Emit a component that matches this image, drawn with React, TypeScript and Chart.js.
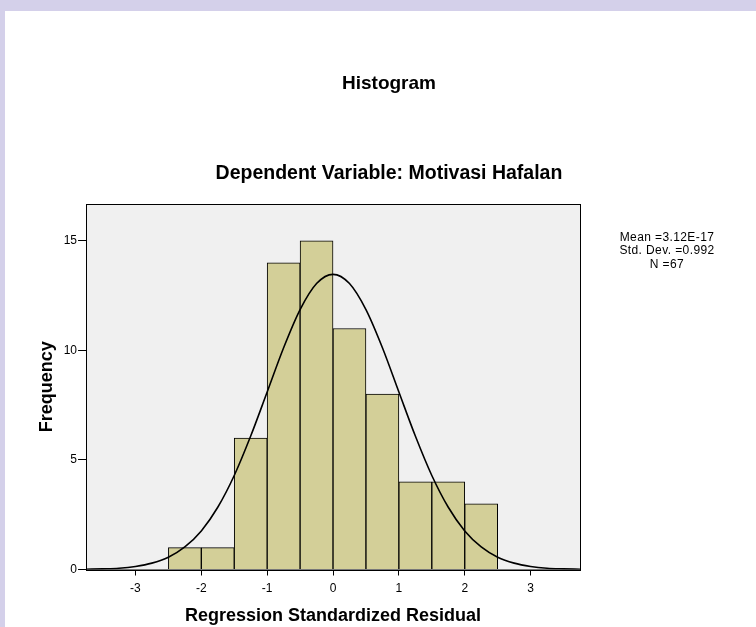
import React, { useEffect, useRef } from "react";
import { Chart, registerables } from "chart.js";

Chart.register(...registerables);

// Histogram bins (centers of 0.5-wide bins) and frequencies
const binCenters = [-2.25, -1.75, -1.25, -0.75, -0.25, 0.25, 0.75, 1.25, 1.75, 2.25];
const frequencies = [1, 1, 6, 14, 15, 11, 8, 4, 4, 3];

// Normal curve
const curveX = [
  -3.75, -3.5, -3.25, -3, -2.75, -2.5, -2.25, -2, -1.75, -1.5, -1.25, -1, -0.75, -0.5, -0.25,
  0, 0.25, 0.5, 0.75, 1, 1.25, 1.5, 1.75, 2, 2.25, 2.5, 2.75, 3, 3.25, 3.5, 3.75,
];
const curveY = [
  0.01, 0.03, 0.06, 0.14, 0.29, 0.56, 1.03, 1.76, 2.84, 4.29, 6.09, 8.1, 10.12, 11.86, 13.05,
  13.47, 13.05, 11.86, 10.12, 8.1, 6.09, 4.29, 2.84, 1.76, 1.03, 0.56, 0.29, 0.14, 0.06, 0.03, 0.01,
];

const xTicks = [-3, -2, -1, 0, 1, 2, 3];
const yTicks = [0, 5, 10, 15];

const titleText = "Histogram";
const subtitleText = "Dependent Variable: Motivasi Hafalan";
const xTitle = "Regression Standardized Residual";
const yTitle = "Frequency";
const statsLines = ["Mean =3.12E-17", "Std. Dev. =0.992", "N =67"];

const FONT = "'Liberation Sans', Arial, sans-serif";

const plotFrame = {
  id: "plotFrame",
  beforeDatasetsDraw(chart: any) {
    const { ctx, chartArea: a } = chart;
    ctx.save();
    ctx.fillStyle = "#f0f0f0";
    ctx.fillRect(a.left, a.top, a.right - a.left, a.bottom - a.top);
    ctx.restore();
  },
  afterDraw(chart: any) {
    const { ctx, chartArea: a } = chart;
    ctx.save();
    ctx.strokeStyle = "#000";
    ctx.lineWidth = 1;
    ctx.strokeRect(Math.round(a.left) + 0.5, Math.round(a.top) + 0.5, Math.round(a.right - a.left), Math.round(a.bottom - a.top));
    ctx.restore();
  },
};

export default function App() {
  const ref = useRef<HTMLCanvasElement | null>(null);

  useEffect(() => {
    if (!ref.current) return;
    const chart = new Chart(ref.current, {
      type: "bar",
      data: {
        datasets: [
          {
            type: "bar",
            data: binCenters.map((x, i) => ({ x, y: frequencies[i] })),
            backgroundColor: "#d3cf98",
            borderColor: "#000",
            borderWidth: 1,
            barPercentage: 1,
            categoryPercentage: 1,
            grouped: false,
            order: 2,
          } as any,
          {
            type: "line",
            data: curveX.map((x, i) => ({ x, y: curveY[i] })),
            borderColor: "#000",
            borderWidth: 1.6,
            pointRadius: 0,
            fill: false,
            cubicInterpolationMode: "monotone",
            order: 1,
          } as any,
        ],
      },
      options: {
        animation: false,
        responsive: false,
        maintainAspectRatio: false,
        layout: { padding: { top: 204, right: 176, bottom: 0, left: 0 } },
        plugins: {
          legend: { display: false },
          tooltip: { enabled: false },
          title: { display: false },
        },
        scales: {
          x: {
            type: "linear",
            min: -3.75,
            max: 3.75,
            offset: false,
            afterBuildTicks: (s: any) => {
              s.ticks = xTicks.map((v) => ({ value: v }));
            },
            grid: { offset: false, drawOnChartArea: false, drawTicks: true, tickLength: 6, color: "#000", tickWidth: 1 },
            border: { display: true, color: "#000", width: 1 },
            ticks: { color: "#000", font: { family: FONT, size: 12 }, padding: 6, maxRotation: 0 },
            title: {
              display: true,
              text: xTitle,
              color: "#000",
              font: { family: FONT, size: 18, weight: "bold" },
              padding: { top: 3.5, bottom: 0 },
            },
          },
          y: {
            type: "linear",
            min: 0,
            max: 16.68,
            afterBuildTicks: (s: any) => {
              s.ticks = yTicks.map((v) => ({ value: v }));
            },
            grid: { drawOnChartArea: false, drawTicks: true, tickLength: 8, color: "#000", tickWidth: 1 },
            border: { display: true, color: "#000", width: 1 },
            ticks: { color: "#000", font: { family: FONT, size: 12 }, padding: 1 },
            title: {
              display: true,
              text: yTitle,
              color: "#000",
              font: { family: FONT, size: 18, weight: "bold" },
              padding: { top: 35.9, bottom: 5.2 },
            },
          },
        },
      },
      plugins: [plotFrame],
    });
    return () => chart.destroy();
  }, []);

  return (
    <div style={{ position: "fixed", left: 0, top: 0, width: 756, height: 627, background: "#d4d0ea", overflow: "hidden" }}>
      <div style={{ position: "absolute", left: 5, top: 11, right: 0, bottom: 0, background: "#fff" }} />
      <canvas ref={ref} width={756} height={627} style={{ position: "absolute", left: 0, top: 0, width: 756, height: 627 }} />
      <div
        style={{
          position: "absolute",
          left: 189,
          width: 400,
          top: 71.5,
          textAlign: "center",
          fontFamily: FONT,
          fontWeight: "bold",
          fontSize: 19,
          color: "#000",
          whiteSpace: "nowrap",
        }}
      >
        {titleText}
      </div>
      <div
        style={{
          position: "absolute",
          left: 139,
          width: 500,
          top: 160.5,
          textAlign: "center",
          fontFamily: FONT,
          fontWeight: "bold",
          fontSize: 19.5,
          color: "#000",
          whiteSpace: "nowrap",
        }}
      >
        {subtitleText}
      </div>
      <div
        style={{
          position: "absolute",
          left: 597,
          width: 140,
          top: 230.5,
          textAlign: "center",
          fontFamily: FONT,
          fontSize: 12,
          lineHeight: "13.5px",
          letterSpacing: "0.4px",
          color: "#000",
          whiteSpace: "nowrap",
        }}
      >
        {statsLines.map((l, i) => (
          <div key={i}>{l}</div>
        ))}
      </div>
    </div>
  );
}
